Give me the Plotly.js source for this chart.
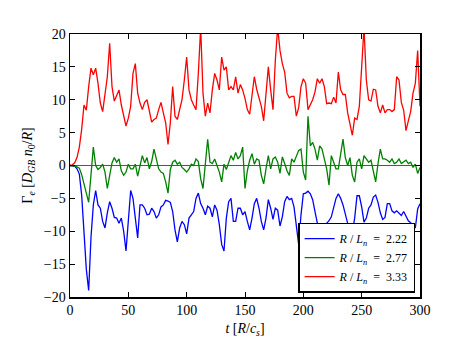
<!DOCTYPE html>
<html>
<head>
<meta charset="utf-8">
<script src="https://cdn.plot.ly/plotly-3.0.1.min.js"></script>
<style>body{margin:0;background:#fff}</style>
</head>
<body>
<div id="plot" style="width:466px;height:351px"></div>
<script>
// time samples, every 2 R/cs
let times=[0,2,4,6,8,10,12,14,16,18,20,22,24,26,28,30,32,34,36,38,40,42,44,46,48,50,52,54,56,58,
60,62,64,66,68,70,72,74,76,78,80,82,84,86,88,90,92,94,96,98,100,102,104,106,108,110,112,114,116,118,
120,122,124,126,128,130,132,134,136,138,140,142,144,146,148,150,152,154,156,158,160,162,164,166,168,170,172,174,176,178,
180,182,184,186,188,190,192,194,196,198,200,202,204,206,208,210,212,214,216,218,220,222,224,226,228,230,232,234,236,238,
240,242,244,246,248,250,252,254,256,258,260,262,264,266,268,270,272,274,276,278,280,282,284,286,288,290,292,294,296,298,300]

// R/Ln = 2.22
let flux222=[0,0,-0.1,-0.5,-1.3,-4.5,-10,-15.8,-19,-10.9,
-6,-3.8,-6,-6.5,-8.5,-9.5,-7.2,-5.5,-6.5,-7.9,
-8,-8.8,-8,-10,-13,-8.5,-3.8,-5,-7.8,-11,
-6,-6,-6.5,-7.5,-7.4,-6.5,-7,-8,-7.5,-6.3,
-6,-5.3,-5.4,-5.6,-7,-9.8,-11.6,-9.5,-8.5,-9,
-10.4,-8,-7.5,-7,-5,-4.2,-5.8,-6.5,-7.5,-6.2,
-6.5,-7.8,-6,-6.8,-9,-12,-13,-8,-5.5,-5,
-8.5,-8.5,-6.5,-6.5,-7.5,-7,-8.5,-9.8,-8,-5.8,
-5,-6.5,-8.5,-9.8,-8,-5.2,-6.5,-8.2,-6.5,-6.8,
-9.2,-7.8,-5.5,-4.7,-5.2,-5,-6.3,-9.5,-12,-7.5,
-4.3,-4.2,-3.9,-4.3,-5.2,-7,-8.5,-10.5,-11.5,-9,
-8.8,-8.4,-7.8,-6.5,-5,-4.3,-5,-6,-7.6,-8.8,
-9.4,-10.2,-8,-4.6,-4.6,-6.3,-8.6,-8,-6.5,-6,
-4.8,-4.5,-5.6,-7.2,-8.2,-7.9,-5.8,-5.8,-6.9,-7.2,
-6.9,-7.2,-7.6,-7,-7.8,-8.4,-8.7,-9.2,-9.5,-6.6,
-5.8]

// R/Ln = 2.77
let flux277=[0,0,-0.1,-0.2,-0.4,-1.4,-2.6,-4.2,-5.6,-1.5,
2.8,0,-0.6,-0.3,0.2,-1,-3.5,-1.5,0.4,1.2,
0.5,1,-0.8,-1.5,-1,0.2,-0.5,-0.5,0.2,-1.6,
-0.2,1.5,0.4,1.2,-0.5,0.6,2.5,1,-0.5,-1,
-1.2,-2.5,-4.2,-0.6,0.5,0.8,0.2,0.5,-0.3,-0.6,
-1,-0.5,0.2,0,1,0.6,-2,-3.5,0.5,4,
0.5,0.3,1,0,-1,-2.5,0.2,-0.6,0.5,1.5,
0.8,2,1,1.5,2.8,-3.5,-0.8,0.8,1.8,0.2,
1,0.8,-1.5,-2.8,-0.5,1.5,-0.5,1,1.3,0.5,
-1.2,1.3,0.3,-0.8,-1.5,1,0.5,1.5,2.3,2.5,
-1,-2.2,7.5,3,3.5,2.5,0.8,3,2.5,1,
-0.5,-3,1.5,0.5,-0.5,-0.5,1.5,4,1.2,0,
1.2,-1.5,-2.5,0.5,1,-0.5,1.5,1,0.5,0.8,
-0.8,-2.5,0.3,2.5,1,1,0.8,0.5,1,0.3,
0.5,1,0.3,0.5,0.8,0.3,0.5,-0.3,0.2,-1.2,
-0.3]

// R/Ln = 3.33
let flux333=[0,0.1,0.4,1.2,2.8,5.5,9.2,8.4,12,14.8,
13.8,14.8,12.5,9.5,8.2,10.8,13.5,18.6,12,9.8,
10.8,11.5,9.2,7.5,6,7.2,9,14,15.5,11,
9.5,8.5,9.6,10,8,6.6,7,7.2,8.5,9.6,
8,6.5,3.2,6.5,12,7.5,7,8.5,10,13,
16.5,11.5,10,9.2,8.5,14,21,11,7.5,9.5,
8,11.5,14,13,11.5,16.5,14.5,15,11.5,12,
11.5,13.5,11,12.3,11.5,10.2,8.5,7.8,10.3,13.5,
11.6,10.3,9,6.8,10.5,15,11.5,8.5,16,21,
17.5,15.5,14.2,11,10.3,10.5,10.5,7.5,8.8,12,
13.2,12.5,8.5,9.2,10,11.2,13.2,12.5,13.2,12,
9.4,9.5,9.4,10.4,9.5,14.2,11.5,10.8,10.8,8,
6.3,4.6,7.2,7,9,15.5,21,13,10,9.8,
11.6,11.5,9,8,9.2,8,8.5,8.5,8.2,8.5,
13.5,13,9.6,8.4,5.3,6.8,8.2,11,12.5,17.5,
9]

let labels=["<i>R</i> / <i>L<sub>n</sub></i>  =  2.22","<i>R</i> / <i>L<sub>n</sub></i>  =  2.77","<i>R</i> / <i>L<sub>n</sub></i>  =  3.33"]
let colors=["#0000ff","#008000","#ff0000"]
let series=[flux222,flux277,flux333]

let data=[]
for (let i=0;i<series.length;i++) {
  data.push({x:times,y:series[i],name:labels[i],type:"scatter",mode:"lines",
    line:{color:colors[i],width:1.3}});
}

let serif="Liberation Serif"
let font={family:serif,size:14,color:"#000"}
let axis={showline:true,mirror:"allticks",linecolor:"#000",linewidth:1.5,ticks:"inside",ticklen:5,
  tickwidth:1,tickcolor:"#000",showgrid:false,tickfont:{family:serif,size:14,color:"#000"}}

let layout={width:466,height:351,paper_bgcolor:"#fff",plot_bgcolor:"#fff",font:font,
  margin:{l:70,r:46,t:34,b:53.5},showlegend:true,
  xaxis:Object.assign({},axis,{range:[0,300],tickvals:[0,50,100,150,200,250,300],zeroline:false,
    title:{text:"<i>t</i> [<i>R</i>/<i>c<sub>s</sub></i>]",font:font,standoff:6}}),
  yaxis:Object.assign({},axis,{range:[-20,20],tickvals:[-20,-15,-10,-5,0,5,10,15,20],
    zeroline:true,zerolinecolor:"#555",zerolinewidth:1.8,
    title:{text:"Γ<sub><i>e</i></sub> [<i>D<sub>GB</sub> n</i><sub>0</sub>/<i>R</i>]",font:font,standoff:8}}),
  legend:{x:0.986,xanchor:"right",y:0.017,yanchor:"bottom",bgcolor:"#fff",bordercolor:"#000",borderwidth:1.5,
    font:{family:serif,size:12,color:"#000"},tracegroupgap:0}}

Plotly.newPlot("plot",data,layout,{displayModeBar:false,staticPlot:true})
</script>
</body>
</html>
